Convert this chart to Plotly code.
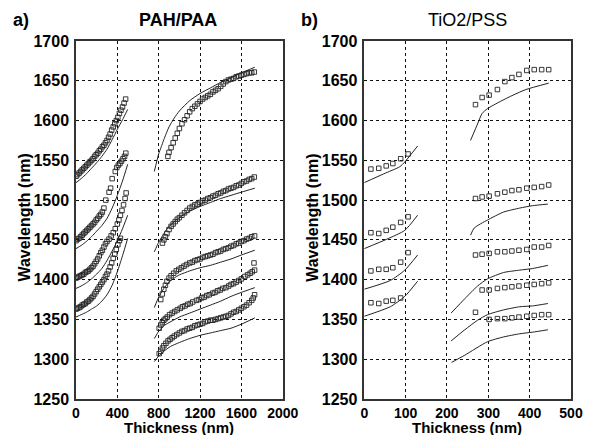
import plotly.graph_objects as go

# ---------------- Panel a) PAH/PAA ----------------
# Early-growth group (0-500 nm): markers
a1_x = [0,15,30,45,60,75,90,105,120,135,150,165,180,195,210,225,240,255,270,285,300,315,330,345,360,375,390,405,420,435,450,465,480]
a1_y = [1530,1532,1534,1536,1538,1540,1542,1544,1546,1548,1550,1552,1555,1557,1559,1562,1564,1567,1569,1572,1575,1579,1583,1588,1592,1596,1600,1604,1609,1613,1617,1622,1627]
a2_x = [0,15,30,45,60,75,90,105,120,135,150,165,180,195,210,225,240,255,270,288,320,335,350,380,395,410,425,440,455,470,482]
a2_y = [1449,1451,1452,1454,1456,1458,1460,1462,1464,1466,1468,1470,1472,1475,1477,1480,1482,1485,1490,1500,1510,1515,1527,1536,1541,1544,1546,1549,1552,1555,1559]
a3_x = [0,15,30,45,60,75,90,105,120,135,150,165,180,195,210,225,240,255,270,285,300,320,340,360,380,400,415,430,445,460,475,485]
a3_y = [1402,1403,1404,1405,1406,1407,1409,1410,1411,1413,1415,1417,1420,1423,1426,1430,1434,1437,1441,1445,1448,1451,1455,1459,1464,1470,1475,1481,1487,1494,1502,1509]
a4_x = [0,15,30,45,60,75,90,105,120,135,150,165,180,195,210,225,240,255,270,285,300,315,330,345,360,375,390,405,420,430]
a4_y = [1363,1364,1365,1366,1368,1369,1370,1372,1373,1375,1377,1379,1382,1385,1388,1391,1394,1397,1400,1404,1407,1411,1416,1421,1427,1432,1438,1444,1449,1452]
# Early-growth group: model lines
l1_x = [0,50,100,150,200,250,300,350,400,450,500]
l1_y = [1522,1527,1533,1540,1547,1555,1564,1576,1589,1601,1614]
l2_x = [0,50,100,150,200,250,300,350,400,450,500]
l2_y = [1439,1443,1448,1454,1461,1468,1477,1490,1506,1524,1545]
l3_x = [0,50,100,150,200,250,300,350,400,450,500]
l3_y = [1389,1392,1396,1401,1407,1414,1424,1436,1449,1464,1481]
l4_x = [0,50,100,150,200,250,300,350,400,450,500]
l4_y = [1353,1356,1359,1363,1367,1373,1381,1393,1410,1430,1452]

# Late-growth group (750-1730 nm): markers
a5_x = [889,900,920,940,960,980,1000,1025,1050,1075,1100,1125,1150,1175,1200,1225,1250,1275,1300,1325,1350,1375,1400,1425,1450,1475,1500,1525,1550,1575,1600,1625,1650,1675,1700,1725]
a5_y = [1555,1560,1566,1572,1578,1584,1590,1596,1601,1606,1611,1615,1618,1621,1624,1627,1629,1631,1633,1636,1638,1640,1643,1646,1649,1651,1652,1653,1655,1656,1657,1658,1659,1660,1660,1661]
a6_x = [836,850,865,880,900,920,940,960,980,1000,1025,1050,1075,1100,1125,1150,1175,1200,1225,1250,1275,1300,1325,1350,1375,1400,1425,1450,1475,1500,1525,1550,1575,1600,1625,1650,1675,1700,1725]
a6_y = [1446,1450,1454,1458,1463,1467,1470,1473,1476,1478,1481,1484,1487,1490,1492,1494,1495,1497,1499,1500,1502,1503,1505,1506,1508,1509,1511,1512,1514,1515,1516,1518,1519,1521,1523,1524,1526,1527,1529]
a7_x = [820,835,850,865,880,900,920,945,970,995,1020,1045,1070,1100,1125,1150,1175,1200,1225,1250,1275,1300,1325,1350,1375,1400,1425,1450,1475,1500,1525,1550,1575,1600,1625,1650,1675,1700,1728]
a7_y = [1375,1382,1388,1393,1398,1402,1405,1408,1411,1413,1415,1417,1419,1421,1422,1424,1425,1426,1428,1429,1430,1431,1432,1434,1435,1436,1438,1439,1440,1442,1443,1445,1446,1448,1449,1451,1452,1454,1455]
a8_x = [805,820,835,850,865,883,905,930,955,980,1008,1030,1055,1080,1105,1130,1165,1190,1215,1240,1265,1290,1321,1345,1370,1395,1420,1450,1477,1500,1525,1550,1575,1600,1634,1660,1685,1705,1728,1722]
a8_y = [1339,1343,1346,1349,1351,1353,1356,1358,1360,1362,1364,1366,1367,1369,1370,1372,1374,1375,1377,1378,1380,1381,1383,1384,1386,1387,1389,1390,1392,1394,1395,1397,1399,1401,1404,1406,1408,1410,1412,1421]
a9_x = [805,820,836,850,870,890,910,930,950,975,1000,1025,1050,1075,1100,1125,1150,1175,1200,1225,1250,1275,1300,1325,1350,1375,1400,1425,1450,1475,1500,1525,1550,1575,1600,1625,1650,1675,1700,1715,1728]
a9_y = [1307,1310,1314,1317,1320,1323,1325,1327,1329,1331,1333,1335,1336,1338,1339,1340,1342,1343,1344,1345,1347,1348,1349,1349,1350,1351,1352,1353,1354,1355,1357,1359,1360,1362,1364,1366,1368,1371,1374,1377,1381]
# Late-growth group: model lines
l5_x = [758,780,800,825,850,900,950,1000,1100,1200,1300,1400,1500,1600,1730]
l5_y = [1536,1548,1558,1567,1576,1592,1603,1612,1625,1634,1641,1648,1654,1660,1667]
l6_x = [758,800,850,900,1000,1100,1200,1300,1400,1500,1600,1730]
l6_y = [1435,1447,1458,1467,1478,1486,1492,1497,1502,1506,1510,1515]
l7_x = [758,800,850,900,950,1000,1100,1200,1300,1400,1500,1600,1730]
l7_y = [1365,1378,1389,1397,1402,1406,1411,1415,1418,1422,1426,1431,1437]
l8_x = [758,800,850,900,1000,1100,1200,1300,1400,1500,1600,1730]
l8_y = [1326,1335,1342,1346,1353,1358,1363,1368,1373,1379,1384,1390]
l9_x = [758,800,850,914,1000,1100,1200,1300,1400,1500,1600,1730]
l9_y = [1297,1304,1310,1316,1321,1326,1330,1333,1336,1339,1344,1352]

# ---------------- Panel b) TiO2/PSS ----------------
b_early_x = [16,35,53,69,88,106]
b1_y = [1539,1540,1543,1546,1552,1558]
b2_y = [1459,1458,1462,1466,1472,1479]
b3_y = [1411,1413,1413,1415,1422,1434]
b4_x = [16,35,53,69,88]
b4_y = [1371,1370,1373,1374,1377]
m1_x = [0,47,86,98,129]
m1_y = [1522,1533,1542,1548,1568]
m2_x = [0,55,98,129]
m2_y = [1439,1451,1462,1481]
m3_x = [0,63,98,129]
m3_y = [1388,1399,1412,1431]
m4_x = [0,63,98,129]
m4_y = [1354,1366,1379,1398]

b_late_x = [269,285,302,322,340,357,374,393,411,429,446]
b5_y = [1620,1629,1632,1639,1649,1654,1658,1663,1664,1664,1664]
b6_y = [1502,1504,1505,1508,1510,1512,1513,1515,1516,1517,1519]
b7_y = [1431,1432,1433,1435,1435,1436,1437,1438,1441,1441,1443]
b8_y = [1359,1387,1387,1389,1390,1391,1392,1393,1394,1395,1396]
b9_x = [302,322,340,357,374,393,411,429,446]
b9_y = [1350,1351,1351,1352,1353,1354,1355,1356,1356]
m5_x = [257,275,285,298,329,360,391,446]
m5_y = [1575,1597,1609,1615,1624,1632,1639,1647]
m6_x = [257,266,298,337,376,407,444]
m6_y = [1456,1465,1475,1485,1490,1493,1495]
m7_x = [210,243,274,298,337,376,407,444]
m7_y = [1358,1376,1392,1401,1409,1412,1414,1418]
m8_x = [210,243,274,298,337,376,407,444]
m8_y = [1323,1337,1349,1356,1362,1366,1367,1370]
m9_x = [211,243,298,337,376,407,444]
m9_y = [1296,1305,1322,1328,1332,1334,1337]

x_ticks_a = [0, 400, 800, 1200, 1600, 2000]
x_ticks_b = [0, 100, 200, 300, 400, 500]
y_ticks = [1250, 1300, 1350, 1400, 1450, 1500, 1550, 1600, 1650, 1700]

MK = "#222222"
marker_style = dict(symbol="square-open", size=4.5, color=MK, line=dict(width=0.9, color=MK))
line_style = dict(color="#222222", width=1)

fig = go.Figure()

def add_markers(x, y, xa, ya):
    fig.add_trace(go.Scatter(x=x, y=y, mode="markers", marker=marker_style,
                             xaxis=xa, yaxis=ya, showlegend=False, hoverinfo="skip"))

def add_line(x, y, xa, ya):
    fig.add_trace(go.Scatter(x=x, y=y, mode="lines", line=dict(shape="spline", smoothing=0.6, **line_style),
                             xaxis=xa, yaxis=ya, showlegend=False, hoverinfo="skip"))

for x, y in [(l1_x, l1_y), (l2_x, l2_y), (l3_x, l3_y), (l4_x, l4_y),
             (l5_x, l5_y), (l6_x, l6_y), (l7_x, l7_y), (l8_x, l8_y), (l9_x, l9_y)]:
    add_line(x, y, "x", "y")
for x, y in [(a1_x, a1_y), (a2_x, a2_y), (a3_x, a3_y), (a4_x, a4_y),
             (a5_x, a5_y), (a6_x, a6_y), (a7_x, a7_y), (a8_x, a8_y), (a9_x, a9_y)]:
    add_markers(x, y, "x", "y")

for x, y in [(m1_x, m1_y), (m2_x, m2_y), (m3_x, m3_y), (m4_x, m4_y),
             (m5_x, m5_y), (m6_x, m6_y), (m7_x, m7_y), (m8_x, m8_y), (m9_x, m9_y)]:
    add_line(x, y, "x2", "y2")
for x, y in [(b_early_x, b1_y), (b_early_x, b2_y), (b_early_x, b3_y), (b4_x, b4_y),
             (b_late_x, b5_y), (b_late_x, b6_y), (b_late_x, b7_y), (b_late_x, b8_y), (b9_x, b9_y)]:
    add_markers(x, y, "x2", "y2")

FONT = "Liberation Sans, Arial, sans-serif"
ytickfont = dict(family=FONT, size=16, color="black", weight="bold")
xtickfont = dict(family=FONT, size=14, color="black", weight="bold")
axis_common = dict(showgrid=True, gridcolor="#111111", gridwidth=1, griddash="3px,3px",
                   zeroline=False, showline=True, mirror=True, linecolor="#333333", linewidth=1.5,
                   ticks="")

fig.update_layout(
    width=599, height=435,
    margin=dict(l=76, r=13, t=41, b=36),
    paper_bgcolor="white", plot_bgcolor="white",
    xaxis=dict(domain=[0, 0.4176], range=[0, 2000], tickvals=x_ticks_a, anchor="y",
               ticklabelstandoff=0, tickfont=xtickfont, **axis_common),
    yaxis=dict(domain=[0, 1], range=[1250, 1700], tickvals=y_ticks, anchor="x",
               ticklabelstandoff=2, tickfont=ytickfont, **axis_common),
    xaxis2=dict(domain=[0.5824, 1], range=[0, 500], tickvals=x_ticks_b, anchor="y2",
                ticklabelstandoff=0, tickfont=xtickfont, **axis_common),
    yaxis2=dict(domain=[0, 1], range=[1250, 1700], tickvals=y_ticks, anchor="x2",
                ticklabelstandoff=2, tickfont=ytickfont, **axis_common),
)

def px_x(px):
    return (px - 76) / 510.0

def px_y(py):
    return (399 - py) / 358.0

ann = []
def add_text(text, x, y, size, bold=True, angle=0, xanchor="center"):
    ann.append(dict(text=text, x=px_x(x), y=px_y(y), xref="paper", yref="paper",
                    showarrow=False, textangle=angle, xanchor=xanchor, yanchor="middle",
                    font=dict(family=FONT, size=size, color="black", weight="bold" if bold else "normal")))

add_text("a)", 9, 20, 18, xanchor="left")
add_text("PAH/PAA", 181, 20, 18)
add_text("b)", 306, 20, 18, xanchor="left")
add_text("TiO2/PSS", 479, 20, 18, bold=False)
add_text("Wavelength (nm)", 23, 218, 16, angle=-90)
add_text("Wavelength (nm)", 320, 218, 16, angle=-90)
add_text("Thickness (nm)", 182, 427, 15)
add_text("Thickness (nm)", 479, 427, 15)
fig.update_layout(annotations=ann)

fig.write_html("out.html")
